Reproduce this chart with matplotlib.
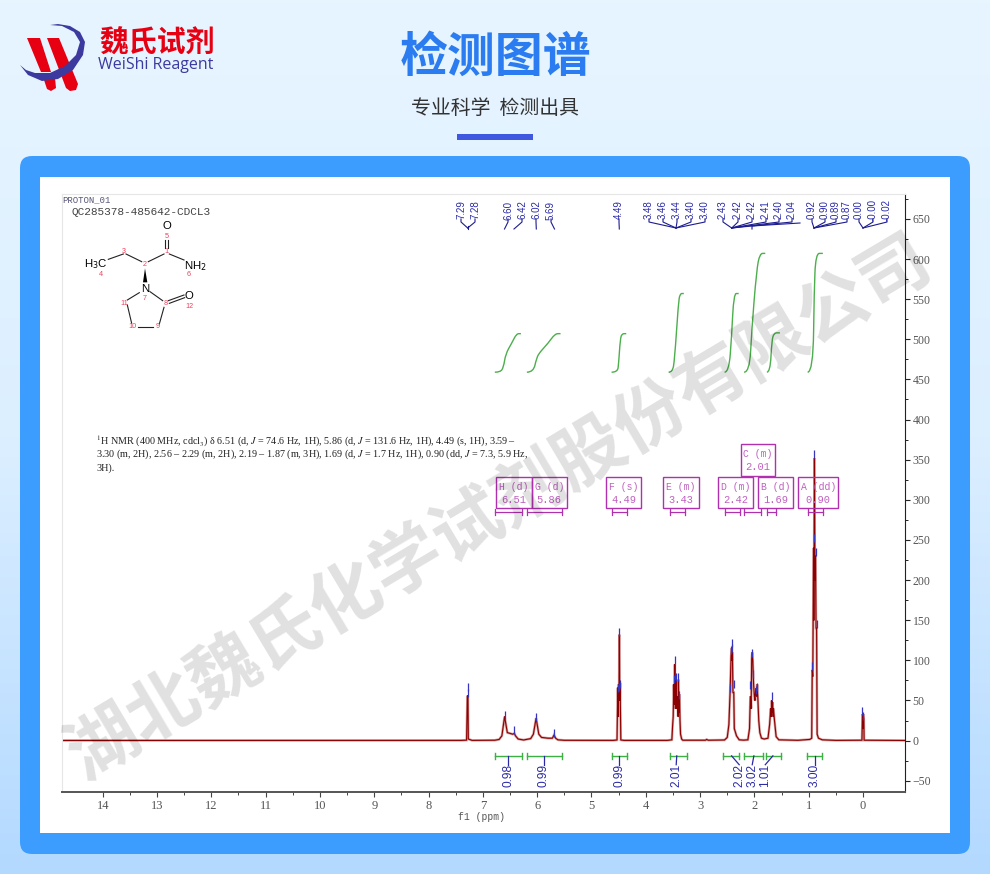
import matplotlib
matplotlib.use('Agg')
import matplotlib.pyplot as plt
import numpy as np
from matplotlib.colors import LinearSegmentedColormap
from matplotlib.patches import FancyBboxPatch, PathPatch, Polygon, Rectangle
from matplotlib.path import Path

plt.rcParams['mathtext.fontset'] = 'stix'
CJK = ['Noto Sans CJK SC', 'DejaVu Sans']
NARROW = ['Liberation Sans Narrow', 'Liberation Sans']

# spectrum trace (ppm, intensity)
spec_ppm = [14.75, 7.4, 7.30, 7.285, 7.275, 7.268, 7.2, 6.78, 6.70, 6.65, 6.62, 6.60, 6.58, 6.55, 6.50, 6.45, 6.42,
            6.40, 6.35, 6.25, 6.12, 6.07, 6.04, 6.02, 6.00, 5.97, 5.92, 5.80, 5.72, 5.69, 5.66, 5.62, 5.50,
            4.60, 4.53, 4.515, 4.508, 4.50, 4.493, 4.487, 4.48, 4.473, 4.465, 4.46, 4.40,
            3.60, 3.52, 3.505, 3.495, 3.485, 3.475, 3.465, 3.455, 3.445, 3.435, 3.425, 3.415, 3.405, 3.40, 3.39,
            3.38, 3.37, 3.36, 3.34, 3.32, 2.90, 2.88, 2.85,
            2.55, 2.50, 2.47, 2.448, 2.43, 2.42, 2.415, 2.405, 2.395, 2.38, 2.37, 2.33, 2.28, 2.20,
            2.12, 2.09, 2.075, 2.06, 2.05, 2.04, 2.03, 2.015, 2.00, 1.99, 1.975, 1.96, 1.95, 1.935, 1.92, 1.90,
            1.87, 1.82, 1.75, 1.72, 1.70, 1.69, 1.68, 1.672, 1.665, 1.655, 1.65, 1.63, 1.60, 1.55, 1.20,
            0.98, 0.945, 0.935, 0.925, 0.91, 0.905, 0.895, 0.885, 0.875, 0.865, 0.855, 0.845, 0.82, 0.75, 0.50,
            0.02, 0.01, 0.00, -0.005, -0.015, -0.02, -0.77]
spec_int = [0.2, 0.3, 0.6, 56, 54, 2, 0.3, 0.5, 1.5, 6, 20, 30, 22, 10, 9, 8, 9,
            6, 2, 0.8, 2.5, 8, 20, 28, 20, 8, 4, 3, 3, 7, 3, 1, 0.4,
            0.3, 0.8, 66, 30, 70, 60, 132, 50, 72, 30, 0.8, 0.3,
            0.3, 1, 20, 30, 70, 45, 95, 40, 75, 40, 50, 55, 30, 76, 35,
            58, 25, 8, 2, 0.5, 0.5, 1.5, 0.5,
            0.8, 4, 20, 60, 105, 115, 100, 110, 60, 60, 15, 6, 1, 0.6,
            1, 15, 55, 40, 102, 110, 100, 70, 55, 50, 65, 55, 70, 50, 25, 10,
            3, 2, 3, 20, 40, 30, 50, 35, 48, 30, 40, 25, 5, 1, 0.4,
            1.5, 3, 88, 80, 240, 150, 352, 200, 230, 140, 140, 8, 3, 1, 0.3,
            0.5, 33, 15, 33, 27, 0.5, 0.2]

# picked peak tips
tip_ppm = [7.283, 7.275, 6.60, 6.42, 6.02, 5.69, 4.515, 4.50, 4.487, 4.473, 3.485, 3.465, 3.445, 3.40, 3.38,
           2.448, 2.43, 2.42, 2.405, 2.38, 2.075, 2.04, 2.03, 1.975, 1.95, 1.68, 0.935, 0.91, 0.895, 0.875, 0.855,
           0.01, -0.005]
tip_top = [72, 64, 37, 18, 35, 15, 70, 72, 140, 76, 82, 105, 84, 84, 62,
           70, 118, 127, 120, 76, 74, 114, 88, 68, 72, 61, 98, 258, 362, 240, 150,
           42, 36]

# integral curves (ppm, running integral)
int_ppm = [[6.78, 6.68, 6.62, 6.58, 6.47, 6.38, 6.30],
           [6.19, 6.07, 6.01, 5.95, 5.80, 5.67, 5.57],
           [4.63, 4.52, 4.50, 4.47, 4.44, 4.36],
           [3.58, 3.51, 3.47, 3.40, 3.37, 3.30],
           [2.55, 2.47, 2.42, 2.38, 2.29],
           [2.19, 2.09, 2.05, 1.96, 1.90, 1.80],
           [1.77, 1.71, 1.68, 1.64, 1.53],
           [1.02, 0.92, 0.90, 0.87, 0.74]]
int_val = [[459, 459, 465, 482, 495, 507, 507],
           [459, 459, 477, 484, 495, 507, 507],
           [459, 459, 470, 500, 507, 507],
           [459, 459, 474, 545, 557, 557],
           [459, 459, 503, 557, 557],
           [459, 459, 511, 586, 607, 607],
           [459, 459, 498, 508, 508],
           [459, 459, 560, 607, 607]]

# integrals under the trace
range_lo = [6.78, 6.19, 4.62, 3.56, 2.58, 2.19, 1.78, 1.03]
range_hi = [6.28, 5.54, 4.34, 3.25, 2.29, 1.85, 1.51, 0.75]
range_mid = [6.53, 5.88, 4.49, 3.43, 2.42, 2.01, 1.66, 0.89]
range_txt = ['0.98', '0.99', '0.99', '2.01', '2.02', '3.02', '1.01', '3.00']
range_lab = [6.53, 5.88, 4.49, 3.44, 2.28, 2.04, 1.80, 0.89]

# multiplet boxes
box_name = ['H (d)', 'G (d)', 'F (s)', 'E (m)', 'D (m)', 'C (m)', 'B (d)', 'A (dd)']
box_val = ['6.51', '5.86', '4.49', '3.43', '2.42', '2.01', '1.69', '0.90']
box_lo = [6.78, 6.19, 4.62, 3.56, 2.55, 2.19, 1.77, 1.02]
box_hi = [6.28, 5.54, 4.34, 3.27, 2.26, 1.87, 1.60, 0.74]

# peak label groups
label_txt = ['7.29', '7.28', '6.60', '6.42', '6.02', '5.69', '4.49', '3.48', '3.46', '3.44', '3.40', '3.40',
             '2.43', '2.42', '2.42', '2.41', '2.40', '2.04', '0.92', '0.90', '0.89', '0.87', '0.00', '-0.00', '-0.02']
label_x = [461, 475, 508, 522, 536, 551, 619, 649, 663, 677, 691, 705,
           723, 738, 752, 766, 779, 792, 812, 825, 836, 847, 859, 873, 887]
y_ticks = list(range(-50, 651, 50))
x_ticks = list(range(0, 15))

fig = plt.figure(figsize=(9.9, 8.74), dpi=100)

# page behind the chart
bg = fig.add_axes([0, 0, 1, 1], zorder=0)
bg.set_xlim(0, 990)
bg.set_ylim(874, 0)
bg.axis('off')
cmap = LinearSegmentedColormap.from_list('page', ['#e7f5ff', '#dcefff', '#b3d9ff'])
bg.imshow(np.linspace(0, 1, 256).reshape(-1, 1), cmap=cmap, aspect='auto', extent=(0, 990, 874, 0))
bg.add_patch(FancyBboxPatch((20, 156), 950, 698, boxstyle='round,pad=0,rounding_size=12', fc='#3d9dff', ec='none'))
bg.add_patch(Rectangle((40, 177), 910, 656, fc='white', ec='none'))

# logo
bg.add_patch(Polygon([(27, 38), (40, 38), (51, 72), (41, 72)], fc='#e60012', ec='none'))
bg.add_patch(Polygon([(47, 38), (59, 38), (78, 84), (76, 90), (70, 91), (66, 88)], fc='#e60012', ec='none'))
bg.add_patch(Polygon([(44, 80), (55, 78), (56, 88), (51, 91), (47, 89)], fc='#e60012', ec='none'))
bg.add_patch(Polygon([(20, 65), (28, 75), (42, 81), (58, 79), (73, 70), (83, 55), (85, 42), (80, 32), (70, 26), (58, 24),
                      (50, 25), (62, 26), (74, 32), (80, 42), (76, 55), (65, 66), (50, 73), (35, 73), (26, 70)],
                     fc='#3c3a9e', ec='none'))
bg.text(99, 43, '魏氏试剂', family=CJK, fontsize=20.8, fontweight='bold', color='#e60012', va='center')
bg.text(98, 65, 'WeiShi Reagent', family='Open Sans', fontsize=11.5, color='#3c3a9e', va='center')
bg.text(495, 57, '检测图谱', family=CJK, fontsize=34.5, fontweight='bold', color='#2a7cf0', ha='center', va='center')
bg.text(495, 109, '专业科学  检测出具', family=CJK, fontsize=14.3, color='#333333', ha='center', va='center')
bg.add_patch(Rectangle((457, 134), 76, 5.5, fc='#4058e0', ec='none'))

# spectrum axes
ax = fig.add_axes([62 / 990, (874 - 792) / 874, (905 - 62) / 990, (792 - 194) / 874], zorder=1)
ax.patch.set_alpha(0)
ax.set_xlim(14.75, -0.773)
ax.set_ylim(-64, 681)
ax.plot(spec_ppm, spec_int, color='#c06060', lw=1.8, alpha=0.6, solid_joinstyle='miter')
ax.plot(spec_ppm, spec_int, color='#8b0000', lw=0.8)
ax.vlines(tip_ppm, np.array(tip_top) - 10, tip_top, color='#3535c0', lw=0.9)
for xs, ys in zip(int_ppm, int_val):
    # curve through the midpoints so the integrals bend like the original
    pts = list(zip(xs, ys))
    verts = [pts[0]]
    codes = [Path.MOVETO]
    for i in range(1, len(pts) - 1):
        mid = ((pts[i][0] + pts[i + 1][0]) / 2, (pts[i][1] + pts[i + 1][1]) / 2)
        verts += [pts[i], mid]
        codes += [Path.CURVE3, Path.CURVE3]
    verts.append(pts[-1])
    codes.append(Path.LINETO)
    ax.add_patch(PathPatch(Path(verts, codes), fc='none', ec='#4cae4c', lw=1.0))

for lo, hi, mid, lab, txt in zip(range_lo, range_hi, range_mid, range_lab, range_txt):
    ax.plot([lo, hi], [-19, -19], color='#3cb043', lw=1.0)
    ax.plot([lo, lo], [-23, -15], color='#3cb043', lw=1.0)
    ax.plot([hi, hi], [-23, -15], color='#3cb043', lw=1.0)
    ax.plot([mid, lab], [-19, -30], color='#2a2aa8', lw=0.9)
    ax.text(lab, -43, txt, rotation=90, ha='center', va='center', family='Liberation Sans', fontsize=8.6, color='#2a2aa8')

for lo, hi in zip(box_lo, box_hi):
    ax.plot([lo, hi], [285, 285], color='#b030b0', lw=0.9)
    ax.plot([lo, lo], [281, 289], color='#b030b0', lw=0.9)
    ax.plot([hi, hi], [281, 289], color='#b030b0', lw=0.9)

for side in ['left', 'top']:
    ax.spines[side].set_color('#e6e6e6')
ax.spines['right'].set_color('#222222')
ax.spines['bottom'].set_color('#555555')
ax.spines['bottom'].set_linewidth(1.4)
ax.yaxis.tick_right()
ax.set_xticks(x_ticks)
ax.set_xticks(np.arange(0.5, 14.5, 1), minor=True)
ax.set_yticks(y_ticks)
ax.set_yticks(np.arange(-25, 676, 50), minor=True)
ax.tick_params(axis='x', which='major', length=3.5, width=0.8, color='#444444', labelsize=9, labelcolor='#555555', pad=2)
ax.tick_params(axis='x', which='minor', length=2, width=0.7, color='#444444')
ax.tick_params(axis='y', which='major', length=3.5, width=0.8, color='#222222', labelsize=8.5, labelcolor='#555555', pad=2)
ax.tick_params(axis='y', which='minor', length=2, width=0.7, color='#222222')
for t in ax.get_xticklabels() + ax.get_yticklabels():
    t.set_family('Liberation Serif')

# things placed in pixels on top
top = fig.add_axes([0, 0, 1, 1], zorder=2)
top.set_xlim(0, 990)
top.set_ylim(874, 0)
top.axis('off')
top.patch.set_alpha(0)

top.text(481, 816.5, 'f1 (ppm)', family='Liberation Mono', fontsize=7, color='#555555', ha='center', va='center')
top.text(62, 200, 'PROTON_01', family='Liberation Mono', fontsize=6.4, color='#555577', va='center')
top.text(72, 212, 'QC285378-485642-CDCL3', family='Liberation Mono', fontsize=8, color='#444444', va='center')

# peak labels and their connectors
joins = {0: 467.7, 1: 467.7, 7: 676, 8: 676, 9: 676, 10: 676, 11: 676, 12: 731.7, 13: 731.7, 14: 731.7, 15: 731.7,
         16: 731.7, 17: 731.7, 18: 814, 19: 814, 20: 814, 21: 814, 22: 863, 23: 863, 24: 863}
ends = {2: 504.5, 3: 514, 4: 536.3, 5: 554.5, 6: 619.3}
for i, (txt, x) in enumerate(zip(label_txt, label_x)):
    top.text(x, 210, txt, rotation=90, family=NARROW, fontsize=7, color='#2a2aa8', ha='center', va='center')
    if i in joins:
        top.plot([x, x, joins[i]], [219, 222, 228], color='#1c1c90', lw=0.8)
    else:
        top.plot([x, x, ends[i]], [219, 222, 229], color='#1c1c90', lw=0.8)
top.plot([467.7, 467.7], [226, 229], color='#1c1c90', lw=0.8)
top.plot([752, 752, 800], [229, 226, 223], color='#1c1c90', lw=0.8)

# multiplet boxes
box_x = [496, 531.7, 606, 663.3, 718.3, 740.7, 758.3, 798.3]
box_w = [35.7, 35, 35, 35.3, 35, 34.7, 35, 40]
box_y = [476.7, 476.7, 476.7, 476.7, 476.7, 444, 476.7, 476.7]
for x, w, y, nm, val in zip(box_x, box_w, box_y, box_name, box_val):
    top.add_patch(Rectangle((x, y), w, 31.6, fc='none', ec='#b030b0', lw=1.0))
    top.text(x + w / 2, y + 10, nm, family='Liberation Mono', fontsize=7, color='#c060c0', ha='center', va='center')
    top.text(x + w / 2, y + 23, val, family='Liberation Mono', fontsize=7.5, color='#c060c0', ha='center', va='center')

# assignment text
nmr_lines = [r'$^{1}$H NMR (400 MHz, cdcl$_{3}$) δ 6.51 (d, $\mathit{J}$ = 74.6 Hz, 1H), 5.86 (d, $\mathit{J}$ = 131.6 Hz, 1H), 4.49 (s, 1H), 3.59 –',
             r'3.30 (m, 2H), 2.56 – 2.29 (m, 2H), 2.19 – 1.87 (m, 3H), 1.69 (d, $\mathit{J}$ = 1.7 Hz, 1H), 0.90 (dd, $\mathit{J}$ = 7.3, 5.9 Hz,',
             '3H).']
for y, line in zip([441, 454.5, 468], nmr_lines):
    top.text(96, y, line, family='Liberation Serif', fontsize=7.25, color='#222222', va='center')

# molecule
bonds = [((250, 222), (205, 238)), ((258, 222), (305, 245)), ((325, 245), (372, 222)), ((388, 222), (432, 240)),
         ((262, 375), (275, 430)), ((295, 440), (340, 440)), ((358, 432), (372, 382)), ((330, 335), (368, 362)),
         ((262, 360), (298, 338)), ((385, 362), (432, 345)), ((388, 370), (434, 353)),
         ((376, 180), (376, 203)), ((384, 180), (384, 203))]
for (x0, y0), (x1, y1) in bonds:
    top.plot([40 + x0 / 3, 40 + x1 / 3], [180 + y0 / 3, 180 + y1 / 3], color='#222222', lw=0.8)
top.add_patch(Polygon([(40 + 315 / 3, 180 + 265 / 3), (40 + 309 / 3, 180 + 307 / 3), (40 + 322 / 3, 180 + 307 / 3)],
                      fc='black', ec='none'))
for zx, zy, s in [(380, 139, 'O'), (315, 327, 'N'), (448, 348, 'O')]:
    top.text(40 + zx / 3, 180 + zy / 3, s, family='Liberation Sans', fontsize=8.2, color='black', ha='center', va='center')
top.text(40 + 465 / 3, 180 + 257 / 3, r'NH$_2$', family='Liberation Sans', fontsize=8.2, ha='center', va='center', math_fontfamily='dejavusans')
top.text(40 + 166 / 3, 180 + 252 / 3, r'H$_3$C', family='Liberation Sans', fontsize=8.2, ha='center', va='center', math_fontfamily='dejavusans')
atom_num = [(380, 215, '1'), (315, 255, '2'), (250, 215, '3'), (184, 284, '4'), (380, 168, '5'), (445, 285, '6'),
            (315, 354, '7'), (376, 370, '8'), (353, 441, '9'), (278, 441, '10'), (254, 370, '11'), (448, 378, '12')]
for zx, zy, s in atom_num:
    top.text(40 + zx / 3, 180 + zy / 3, s, family='Liberation Sans', fontsize=5.2, color='#f0405a', ha='center', va='center')

# watermark over everything
top.text(500, 508, '湖北魏氏化学试剂股份有限公司', family=CJK, fontsize=51, fontweight='bold', color='black', alpha=0.12,
         rotation=30.8, rotation_mode='anchor', ha='center', va='center')

plt.savefig('out.png', dpi=100)
